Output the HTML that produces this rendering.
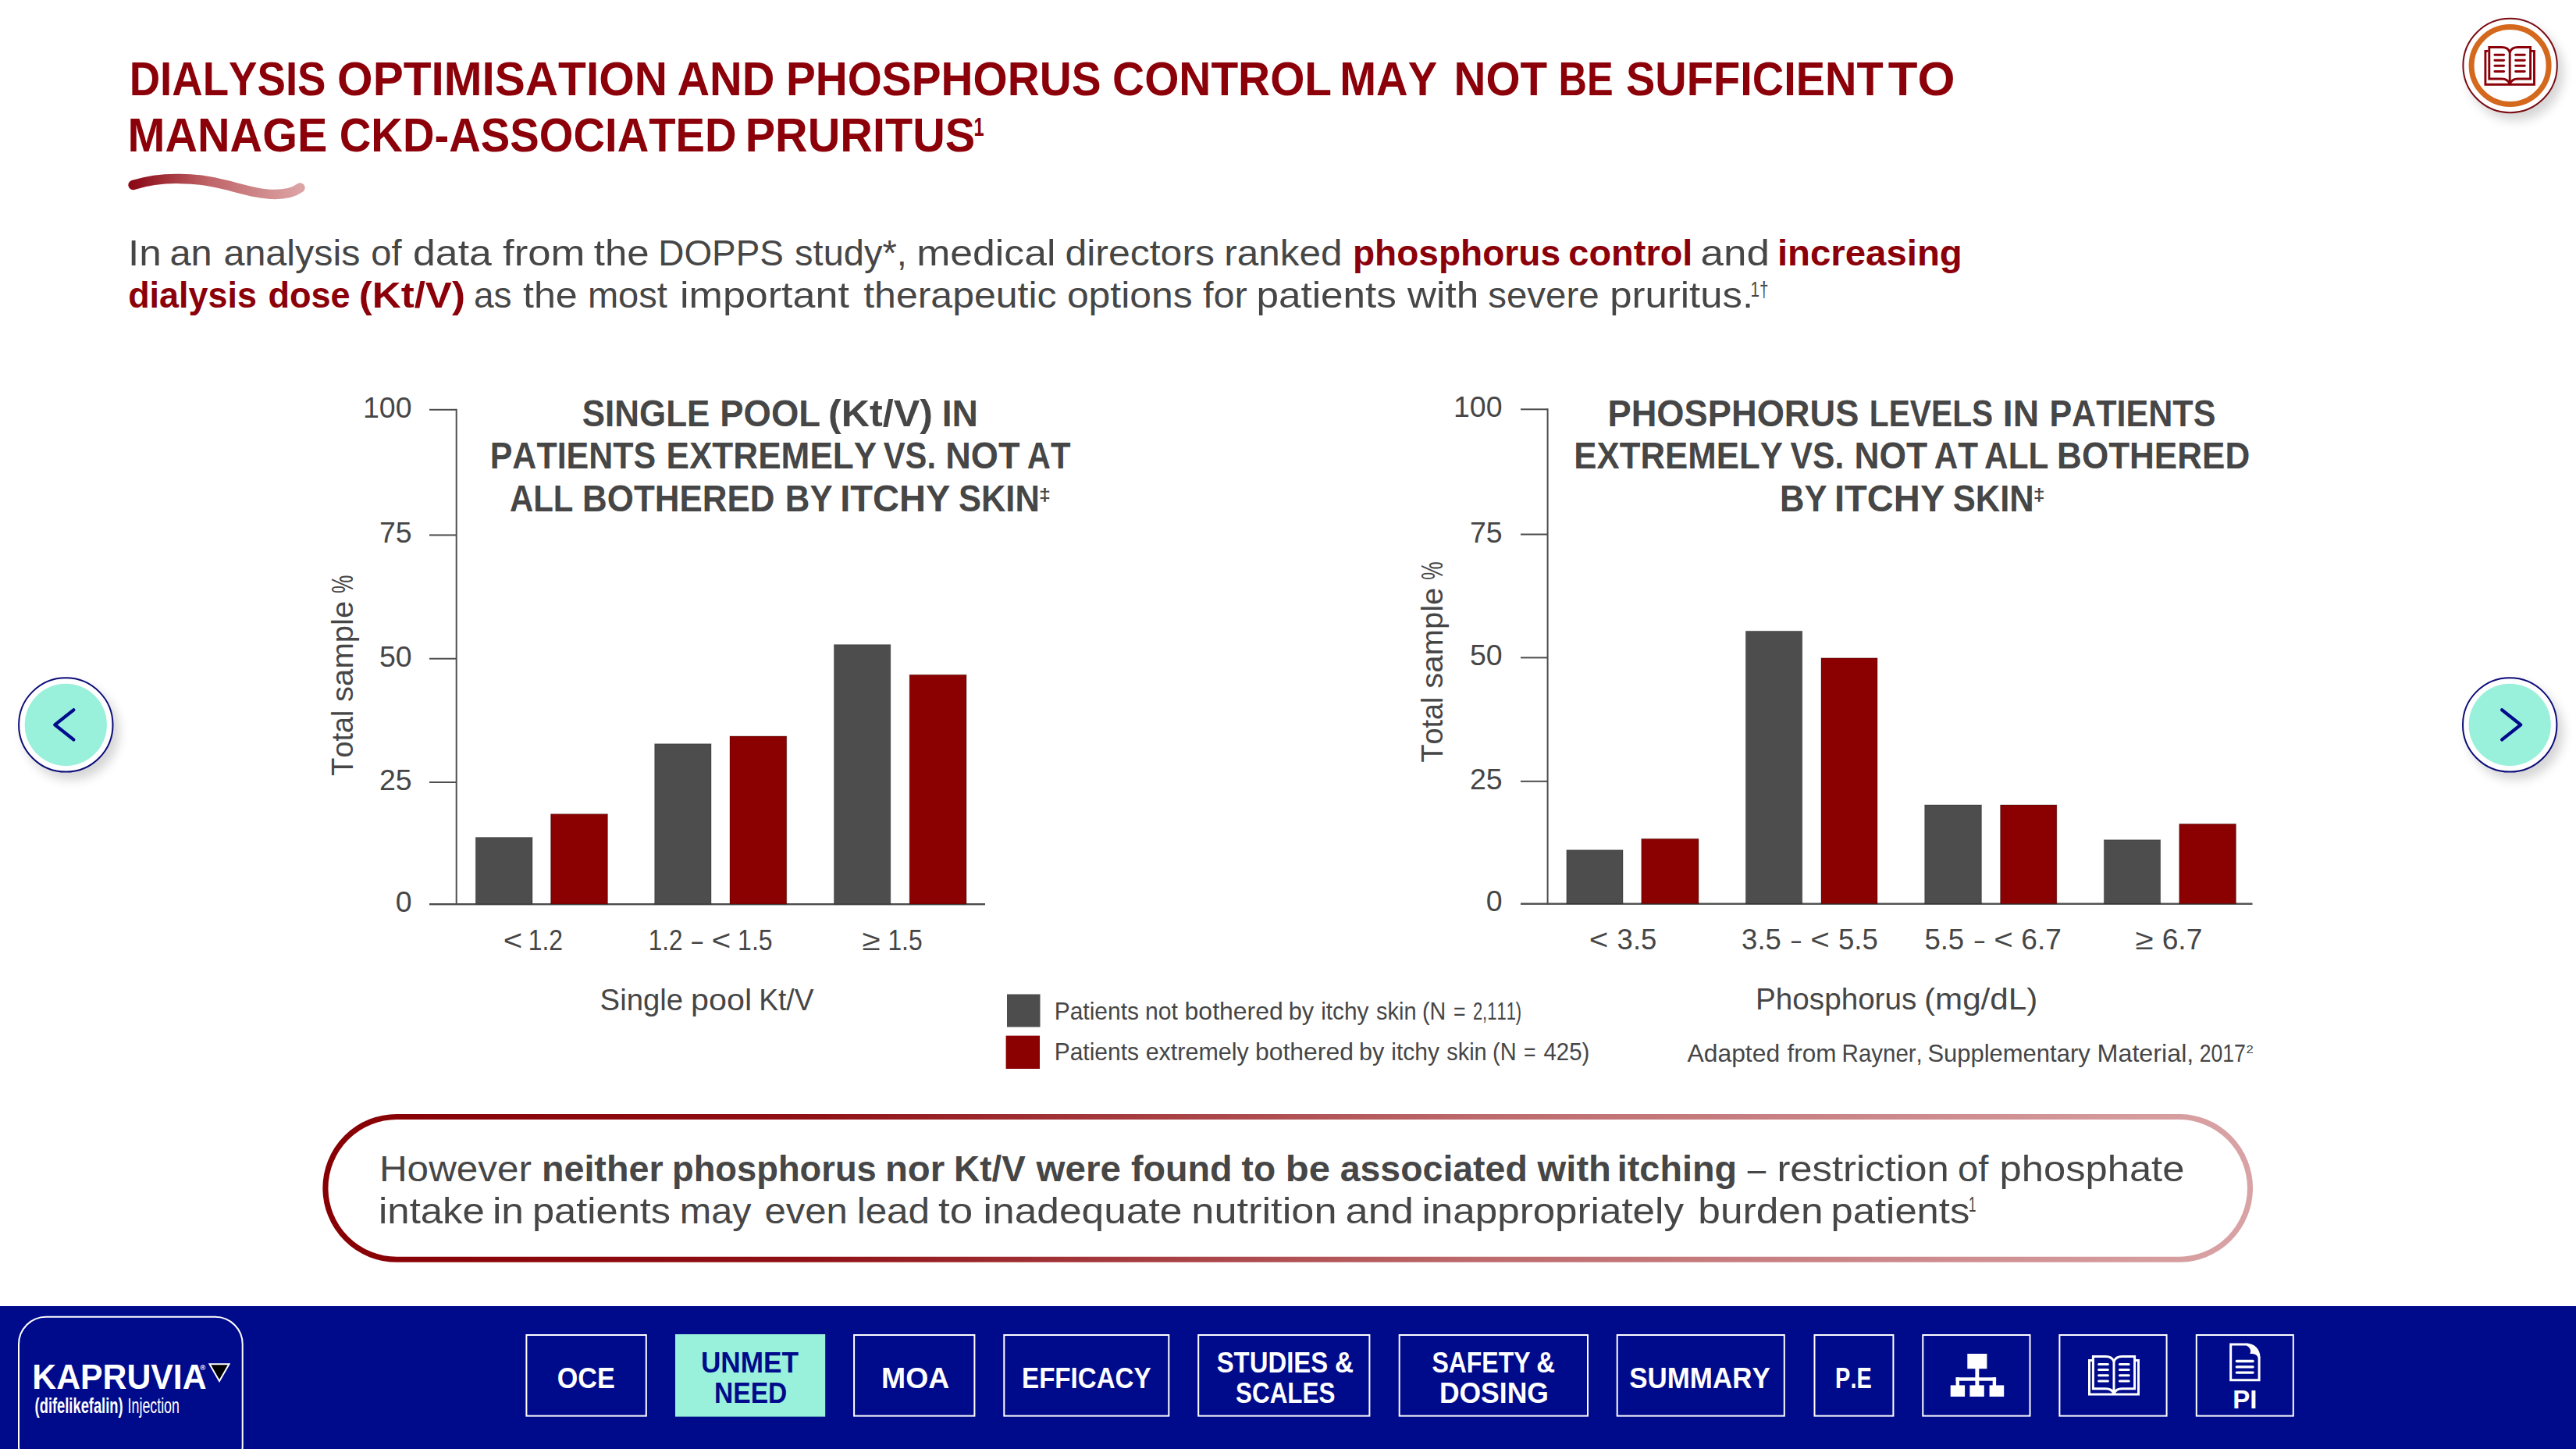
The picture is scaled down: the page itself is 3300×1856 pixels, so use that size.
<!DOCTYPE html>
<html lang="en"><head><meta charset="utf-8"><title>Dialysis optimisation and phosphorus control</title>
<style>
html,body{margin:0;padding:0;background:#fff}
body{width:3300px;height:1856px;overflow:hidden}
svg{display:block}
text{font-family:"Liberation Sans",sans-serif;white-space:pre;font-kerning:none}
</style></head><body>
<svg width="3300" height="1856" viewBox="0 0 3300 1856">
<defs>
<linearGradient id="gsw" x1="0" y1="0" x2="1" y2="0"><stop offset="0" stop-color="#8c0a16"/><stop offset="0.45" stop-color="#bf6468"/><stop offset="1" stop-color="#dca3a4"/></linearGradient>
<linearGradient id="gbox" x1="0" y1="0" x2="1" y2="0"><stop offset="0" stop-color="#870004"/><stop offset="0.25" stop-color="#8f1015"/><stop offset="0.6" stop-color="#bd6a6c"/><stop offset="1" stop-color="#d9a3a5"/></linearGradient>
<filter id="sh" x="-30%" y="-30%" width="170%" height="170%"><feGaussianBlur in="SourceAlpha" stdDeviation="7"/><feOffset dx="7" dy="9"/><feComponentTransfer><feFuncA type="linear" slope="0.17"/></feComponentTransfer><feMerge><feMergeNode/><feMergeNode in="SourceGraphic"/></feMerge></filter>
</defs>
<text x="165.7" y="121.9" font-size="61" fill="#8b0009" font-weight="bold" textLength="251.8" lengthAdjust="spacingAndGlyphs">DIALYSIS</text>
<text x="432.1" y="121.9" font-size="61" fill="#8b0009" font-weight="bold" textLength="422.9" lengthAdjust="spacingAndGlyphs">OPTIMISATION</text>
<text x="867.4" y="121.9" font-size="61" fill="#8b0009" font-weight="bold" textLength="125.1" lengthAdjust="spacingAndGlyphs">AND</text>
<text x="1006.9" y="121.9" font-size="61" fill="#8b0009" font-weight="bold" textLength="403.6" lengthAdjust="spacingAndGlyphs">PHOSPHORUS</text>
<text x="1425.1" y="121.9" font-size="61" fill="#8b0009" font-weight="bold" textLength="281.0" lengthAdjust="spacingAndGlyphs">CONTROL</text>
<text x="1716.2" y="121.9" font-size="61" fill="#8b0009" font-weight="bold" textLength="125.0" lengthAdjust="spacingAndGlyphs">MAY</text>
<text x="1862.5" y="121.9" font-size="61" fill="#8b0009" font-weight="bold" textLength="119.6" lengthAdjust="spacingAndGlyphs">NOT</text>
<text x="1996.4" y="121.9" font-size="61" fill="#8b0009" font-weight="bold" textLength="70.2" lengthAdjust="spacingAndGlyphs">BE</text>
<text x="2083.0" y="121.9" font-size="61" fill="#8b0009" font-weight="bold" textLength="329.7" lengthAdjust="spacingAndGlyphs">SUFFICIENT</text>
<text x="2418.8" y="121.9" font-size="61" fill="#8b0009" font-weight="bold" textLength="85.8" lengthAdjust="spacingAndGlyphs">TO</text>
<text x="163.5" y="193.7" font-size="61" fill="#8b0009" font-weight="bold" textLength="255.8" lengthAdjust="spacingAndGlyphs">MANAGE</text>
<text x="434.8" y="193.7" font-size="61" fill="#8b0009" font-weight="bold" textLength="508.8" lengthAdjust="spacingAndGlyphs">CKD-ASSOCIATED</text>
<text x="954.7" y="193.7" font-size="61" fill="#8b0009" font-weight="bold" textLength="294.5" lengthAdjust="spacingAndGlyphs">PRURITUS</text>
<text x="1247.5" y="173.8" font-size="34" fill="#8b0009" font-weight="bold" textLength="13.1" lengthAdjust="spacingAndGlyphs">1</text>
<path d="M170.5 237 C 190 231, 212 228.5, 231 229 C 256 229.5, 270 232, 290 237 C 312 242.5, 332 249, 352 249 C 366 249, 377 246, 384.5 240.5" fill="none" stroke="url(#gsw)" stroke-width="12.3" stroke-linecap="round"/>
<text x="164.0" y="340.3" font-size="46" fill="#464646" textLength="42.8" lengthAdjust="spacingAndGlyphs">In</text>
<text x="217.4" y="340.3" font-size="46" fill="#464646" textLength="54.2" lengthAdjust="spacingAndGlyphs">an</text>
<text x="286.5" y="340.3" font-size="46" fill="#464646" textLength="175.0" lengthAdjust="spacingAndGlyphs">analysis</text>
<text x="475.2" y="340.3" font-size="46" fill="#464646" textLength="39.3" lengthAdjust="spacingAndGlyphs">of</text>
<text x="529.1" y="340.3" font-size="46" fill="#464646" textLength="100.7" lengthAdjust="spacingAndGlyphs">data</text>
<text x="644.1" y="340.3" font-size="46" fill="#464646" textLength="105.4" lengthAdjust="spacingAndGlyphs">from</text>
<text x="760.8" y="340.3" font-size="46" fill="#464646" textLength="70.8" lengthAdjust="spacingAndGlyphs">the</text>
<text x="843.3" y="340.3" font-size="46" fill="#464646" textLength="160.5" lengthAdjust="spacingAndGlyphs">DOPPS</text>
<text x="1018.1" y="340.3" font-size="46" fill="#464646" textLength="143.7" lengthAdjust="spacingAndGlyphs">study*,</text>
<text x="1174.2" y="340.3" font-size="46" fill="#464646" textLength="178.2" lengthAdjust="spacingAndGlyphs">medical</text>
<text x="1364.5" y="340.3" font-size="46" fill="#464646" textLength="191.5" lengthAdjust="spacingAndGlyphs">directors</text>
<text x="1568.3" y="340.3" font-size="46" fill="#464646" textLength="151.1" lengthAdjust="spacingAndGlyphs">ranked</text>
<text x="1733.0" y="340.3" font-size="46" fill="#8b0009" font-weight="bold" textLength="266.0" lengthAdjust="spacingAndGlyphs">phosphorus</text>
<text x="2009.3" y="340.3" font-size="46" fill="#8b0009" font-weight="bold" textLength="159.1" lengthAdjust="spacingAndGlyphs">control</text>
<text x="2178.4" y="340.3" font-size="46" fill="#464646" textLength="88.5" lengthAdjust="spacingAndGlyphs">and</text>
<text x="2276.9" y="340.3" font-size="46" fill="#8b0009" font-weight="bold" textLength="236.9" lengthAdjust="spacingAndGlyphs">increasing</text>
<text x="164.2" y="394.2" font-size="46" fill="#8b0009" font-weight="bold" textLength="164.7" lengthAdjust="spacingAndGlyphs">dialysis</text>
<text x="343.4" y="394.2" font-size="46" fill="#8b0009" font-weight="bold" textLength="105.3" lengthAdjust="spacingAndGlyphs">dose</text>
<text x="459.7" y="394.2" font-size="46" fill="#8b0009" font-weight="bold" textLength="136.3" lengthAdjust="spacingAndGlyphs">(Kt/V)</text>
<text x="607.0" y="394.2" font-size="46" fill="#464646" textLength="48.6" lengthAdjust="spacingAndGlyphs">as</text>
<text x="670.0" y="394.2" font-size="46" fill="#464646" textLength="69.8" lengthAdjust="spacingAndGlyphs">the</text>
<text x="752.9" y="394.2" font-size="46" fill="#464646" textLength="101.9" lengthAdjust="spacingAndGlyphs">most</text>
<text x="871.0" y="394.2" font-size="46" fill="#464646" textLength="216.9" lengthAdjust="spacingAndGlyphs">important</text>
<text x="1106.2" y="394.2" font-size="46" fill="#464646" textLength="247.4" lengthAdjust="spacingAndGlyphs">therapeutic</text>
<text x="1366.9" y="394.2" font-size="46" fill="#464646" textLength="160.8" lengthAdjust="spacingAndGlyphs">options</text>
<text x="1540.9" y="394.2" font-size="46" fill="#464646" textLength="56.9" lengthAdjust="spacingAndGlyphs">for</text>
<text x="1609.4" y="394.2" font-size="46" fill="#464646" textLength="179.5" lengthAdjust="spacingAndGlyphs">patients</text>
<text x="1803.1" y="394.2" font-size="46" fill="#464646" textLength="91.2" lengthAdjust="spacingAndGlyphs">with</text>
<text x="1906.3" y="394.2" font-size="46" fill="#464646" textLength="142.3" lengthAdjust="spacingAndGlyphs">severe</text>
<text x="2062.2" y="394.2" font-size="46" fill="#464646" textLength="183.9" lengthAdjust="spacingAndGlyphs">pruritus.</text>
<text x="2242.5" y="379.6" font-size="27.5" fill="#464646" textLength="23.1" lengthAdjust="spacingAndGlyphs">1†</text>
<rect x="583.7" y="523.8" width="2" height="635.2" fill="#4d4d4d" />
<rect x="550" y="1157" width="712" height="2.4" fill="#4d4d4d" />
<rect x="550" y="523.8" width="34.700000000000045" height="2" fill="#4d4d4d" />
<rect x="550" y="684.4" width="34.700000000000045" height="2" fill="#4d4d4d" />
<rect x="550" y="842.7" width="34.700000000000045" height="2" fill="#4d4d4d" />
<rect x="550" y="1001" width="34.700000000000045" height="2" fill="#4d4d4d" />
<rect x="609.4" y="1072.6" width="72.60000000000002" height="85.40000000000009" fill="#4d4d4d" stroke="#000" stroke-opacity=".3" stroke-width="1"/>
<rect x="705.6" y="1042.7" width="72.79999999999995" height="115.29999999999995" fill="#8b0000" stroke="#000" stroke-opacity=".3" stroke-width="1"/>
<rect x="838.7" y="952.8" width="72.29999999999995" height="205.20000000000005" fill="#4d4d4d" stroke="#000" stroke-opacity=".3" stroke-width="1"/>
<rect x="935" y="943" width="72.70000000000005" height="215" fill="#8b0000" stroke="#000" stroke-opacity=".3" stroke-width="1"/>
<rect x="1068.5" y="825.7" width="72.29999999999995" height="332.29999999999995" fill="#4d4d4d" stroke="#000" stroke-opacity=".3" stroke-width="1"/>
<rect x="1165.2" y="864.3" width="72.79999999999995" height="293.70000000000005" fill="#8b0000" stroke="#000" stroke-opacity=".3" stroke-width="1"/>
<rect x="1981.6" y="523.3" width="2" height="635.2" fill="#4d4d4d" />
<rect x="1948" y="1156.5" width="937.5" height="2.4" fill="#4d4d4d" />
<rect x="1948" y="523.3" width="34.59999999999991" height="2" fill="#4d4d4d" />
<rect x="1948" y="683.5" width="34.59999999999991" height="2" fill="#4d4d4d" />
<rect x="1948" y="841.4" width="34.59999999999991" height="2" fill="#4d4d4d" />
<rect x="1948" y="999.8" width="34.59999999999991" height="2" fill="#4d4d4d" />
<rect x="2006.9" y="1088.8" width="72.09999999999991" height="68.70000000000005" fill="#4d4d4d" stroke="#000" stroke-opacity=".3" stroke-width="1"/>
<rect x="2102.8" y="1074.4" width="73.19999999999982" height="83.09999999999991" fill="#8b0000" stroke="#000" stroke-opacity=".3" stroke-width="1"/>
<rect x="2236.5" y="808.4" width="72.19999999999982" height="349.1" fill="#4d4d4d" stroke="#000" stroke-opacity=".3" stroke-width="1"/>
<rect x="2333" y="842.9" width="72" height="314.6" fill="#8b0000" stroke="#000" stroke-opacity=".3" stroke-width="1"/>
<rect x="2465.7" y="1031" width="72.70000000000027" height="126.5" fill="#4d4d4d" stroke="#000" stroke-opacity=".3" stroke-width="1"/>
<rect x="2562.6" y="1031" width="72.20000000000027" height="126.5" fill="#8b0000" stroke="#000" stroke-opacity=".3" stroke-width="1"/>
<rect x="2695.4" y="1075.8" width="72.19999999999982" height="81.70000000000005" fill="#4d4d4d" stroke="#000" stroke-opacity=".3" stroke-width="1"/>
<rect x="2791.8" y="1055.3" width="72.59999999999991" height="102.20000000000005" fill="#8b0000" stroke="#000" stroke-opacity=".3" stroke-width="1"/>
<text x="527.6" y="534.8" font-size="37.5" fill="#464646" text-anchor="end">100</text>
<text x="527.6" y="695.4" font-size="37.5" fill="#464646" text-anchor="end">75</text>
<text x="527.6" y="853.5" font-size="37.5" fill="#464646" text-anchor="end">50</text>
<text x="527.6" y="1012" font-size="37.5" fill="#464646" text-anchor="end">25</text>
<text x="527.6" y="1167.6" font-size="37.5" fill="#464646" text-anchor="end">0</text>
<text x="1924.6" y="534.3" font-size="37.5" fill="#464646" text-anchor="end">100</text>
<text x="1924.6" y="694.5" font-size="37.5" fill="#464646" text-anchor="end">75</text>
<text x="1924.6" y="852.4" font-size="37.5" fill="#464646" text-anchor="end">50</text>
<text x="1924.6" y="1010.8" font-size="37.5" fill="#464646" text-anchor="end">25</text>
<text x="1924.6" y="1167" font-size="37.5" fill="#464646" text-anchor="end">0</text>
<text x="-0.8" y="0" font-size="38.5" fill="#464646" textLength="84.0" lengthAdjust="spacingAndGlyphs" transform="translate(451.9,992.9) rotate(-90)">Total</text>
<text x="94.0" y="0" font-size="38.5" fill="#464646" textLength="129.1" lengthAdjust="spacingAndGlyphs" transform="translate(451.9,992.9) rotate(-90)">sample</text>
<text x="232.9" y="0" font-size="38.5" fill="#464646" textLength="23.4" lengthAdjust="spacingAndGlyphs" transform="translate(451.9,992.9) rotate(-90)">%</text>
<text x="-0.8" y="0" font-size="38.5" fill="#464646" textLength="84.0" lengthAdjust="spacingAndGlyphs" transform="translate(1847.8,975.7) rotate(-90)">Total</text>
<text x="94.0" y="0" font-size="38.5" fill="#464646" textLength="129.1" lengthAdjust="spacingAndGlyphs" transform="translate(1847.8,975.7) rotate(-90)">sample</text>
<text x="232.9" y="0" font-size="38.5" fill="#464646" textLength="23.4" lengthAdjust="spacingAndGlyphs" transform="translate(1847.8,975.7) rotate(-90)">%</text>
<text x="745.7" y="545.8" font-size="47.5" fill="#464646" font-weight="bold" textLength="163.6" lengthAdjust="spacingAndGlyphs">SINGLE</text>
<text x="922.3" y="545.8" font-size="47.5" fill="#464646" font-weight="bold" textLength="128.7" lengthAdjust="spacingAndGlyphs">POOL</text>
<text x="1061.0" y="545.8" font-size="47.5" fill="#464646" font-weight="bold" textLength="134.0" lengthAdjust="spacingAndGlyphs">(Kt/V)</text>
<text x="1206.7" y="545.8" font-size="47.5" fill="#464646" font-weight="bold" textLength="46.2" lengthAdjust="spacingAndGlyphs">IN</text>
<text x="627.7" y="600.3" font-size="47.5" fill="#464646" font-weight="bold" textLength="212.5" lengthAdjust="spacingAndGlyphs">PATIENTS</text>
<text x="853.5" y="600.3" font-size="47.5" fill="#464646" font-weight="bold" textLength="269.7" lengthAdjust="spacingAndGlyphs">EXTREMELY</text>
<text x="1131.7" y="600.3" font-size="47.5" fill="#464646" font-weight="bold" textLength="67.4" lengthAdjust="spacingAndGlyphs">VS.</text>
<text x="1211.3" y="600.3" font-size="47.5" fill="#464646" font-weight="bold" textLength="95.2" lengthAdjust="spacingAndGlyphs">NOT</text>
<text x="1315.8" y="600.3" font-size="47.5" fill="#464646" font-weight="bold" textLength="55.7" lengthAdjust="spacingAndGlyphs">AT</text>
<text x="652.9" y="654.7" font-size="47.5" fill="#464646" font-weight="bold" textLength="81.6" lengthAdjust="spacingAndGlyphs">ALL</text>
<text x="746.1" y="654.7" font-size="47.5" fill="#464646" font-weight="bold" textLength="246.3" lengthAdjust="spacingAndGlyphs">BOTHERED</text>
<text x="1005.8" y="654.7" font-size="47.5" fill="#464646" font-weight="bold" textLength="60.8" lengthAdjust="spacingAndGlyphs">BY</text>
<text x="1076.2" y="654.7" font-size="47.5" fill="#464646" font-weight="bold" textLength="141.3" lengthAdjust="spacingAndGlyphs">ITCHY</text>
<text x="1227.9" y="654.7" font-size="47.5" fill="#464646" font-weight="bold" textLength="104.0" lengthAdjust="spacingAndGlyphs">SKIN</text>
<text x="1331.0" y="641" font-size="22.4" fill="#464646" font-weight="bold" textLength="14.9" lengthAdjust="spacingAndGlyphs">‡</text>
<text x="2059.5" y="545.8" font-size="47.5" fill="#464646" font-weight="bold" textLength="321.9" lengthAdjust="spacingAndGlyphs">PHOSPHORUS</text>
<text x="2394.8" y="545.8" font-size="47.5" fill="#464646" font-weight="bold" textLength="158.5" lengthAdjust="spacingAndGlyphs">LEVELS</text>
<text x="2565.8" y="545.8" font-size="47.5" fill="#464646" font-weight="bold" textLength="46.3" lengthAdjust="spacingAndGlyphs">IN</text>
<text x="2625.4" y="545.8" font-size="47.5" fill="#464646" font-weight="bold" textLength="213.0" lengthAdjust="spacingAndGlyphs">PATIENTS</text>
<text x="2016.3" y="600.3" font-size="47.5" fill="#464646" font-weight="bold" textLength="267.7" lengthAdjust="spacingAndGlyphs">EXTREMELY</text>
<text x="2293.6" y="600.3" font-size="47.5" fill="#464646" font-weight="bold" textLength="68.8" lengthAdjust="spacingAndGlyphs">VS.</text>
<text x="2375.5" y="600.3" font-size="47.5" fill="#464646" font-weight="bold" textLength="93.7" lengthAdjust="spacingAndGlyphs">NOT</text>
<text x="2477.7" y="600.3" font-size="47.5" fill="#464646" font-weight="bold" textLength="56.3" lengthAdjust="spacingAndGlyphs">AT</text>
<text x="2542.1" y="600.3" font-size="47.5" fill="#464646" font-weight="bold" textLength="82.2" lengthAdjust="spacingAndGlyphs">ALL</text>
<text x="2635.1" y="600.3" font-size="47.5" fill="#464646" font-weight="bold" textLength="247.1" lengthAdjust="spacingAndGlyphs">BOTHERED</text>
<text x="2280.1" y="654.7" font-size="47.5" fill="#464646" font-weight="bold" textLength="60.6" lengthAdjust="spacingAndGlyphs">BY</text>
<text x="2350.0" y="654.7" font-size="47.5" fill="#464646" font-weight="bold" textLength="141.3" lengthAdjust="spacingAndGlyphs">ITCHY</text>
<text x="2501.7" y="654.7" font-size="47.5" fill="#464646" font-weight="bold" textLength="104.1" lengthAdjust="spacingAndGlyphs">SKIN</text>
<text x="2604.8" y="641" font-size="22.4" fill="#464646" font-weight="bold" textLength="14.9" lengthAdjust="spacingAndGlyphs">‡</text>
<text x="644.7" y="1217.2" font-size="37" fill="#464646" textLength="24.5" lengthAdjust="spacingAndGlyphs">&lt;</text>
<text x="676.7" y="1217.2" font-size="37" fill="#464646" textLength="44.3" lengthAdjust="spacingAndGlyphs">1.2</text>
<text x="830.8" y="1217.2" font-size="37" fill="#464646" textLength="43.7" lengthAdjust="spacingAndGlyphs">1.2</text>
<text x="886.3" y="1217.2" font-size="37" fill="#464646" textLength="13.9" lengthAdjust="spacingAndGlyphs">–</text>
<text x="911.6" y="1217.2" font-size="37" fill="#464646" textLength="24.8" lengthAdjust="spacingAndGlyphs">&lt;</text>
<text x="945.1" y="1217.2" font-size="37" fill="#464646" textLength="44.5" lengthAdjust="spacingAndGlyphs">1.5</text>
<text x="1104.4" y="1217.2" font-size="37" fill="#464646" textLength="23.3" lengthAdjust="spacingAndGlyphs">≥</text>
<text x="1137.4" y="1217.2" font-size="37" fill="#464646" textLength="44.2" lengthAdjust="spacingAndGlyphs">1.5</text>
<text x="768.6" y="1293.7" font-size="38" fill="#464646" textLength="106.5" lengthAdjust="spacingAndGlyphs">Single</text>
<text x="885.1" y="1293.7" font-size="38" fill="#464646" textLength="78.0" lengthAdjust="spacingAndGlyphs">pool</text>
<text x="972.2" y="1293.7" font-size="38" fill="#464646" textLength="70.3" lengthAdjust="spacingAndGlyphs">Kt/V</text>
<text x="2035.7" y="1216.3" font-size="37" fill="#464646" textLength="24.6" lengthAdjust="spacingAndGlyphs">&lt;</text>
<text x="2071.6" y="1216.3" font-size="37" fill="#464646" textLength="50.7" lengthAdjust="spacingAndGlyphs">3.5</text>
<text x="2231.1" y="1216.3" font-size="37" fill="#464646" textLength="50.7" lengthAdjust="spacingAndGlyphs">3.5</text>
<text x="2295.0" y="1216.3" font-size="37" fill="#464646" textLength="12.0" lengthAdjust="spacingAndGlyphs">–</text>
<text x="2319.2" y="1216.3" font-size="37" fill="#464646" textLength="24.6" lengthAdjust="spacingAndGlyphs">&lt;</text>
<text x="2355.0" y="1216.3" font-size="37" fill="#464646" textLength="50.8" lengthAdjust="spacingAndGlyphs">5.5</text>
<text x="2465.4" y="1216.3" font-size="37" fill="#464646" textLength="50.8" lengthAdjust="spacingAndGlyphs">5.5</text>
<text x="2529.7" y="1216.3" font-size="37" fill="#464646" textLength="12.3" lengthAdjust="spacingAndGlyphs">–</text>
<text x="2554.3" y="1216.3" font-size="37" fill="#464646" textLength="24.6" lengthAdjust="spacingAndGlyphs">&lt;</text>
<text x="2589.3" y="1216.3" font-size="37" fill="#464646" textLength="51.5" lengthAdjust="spacingAndGlyphs">6.7</text>
<text x="2735.5" y="1216.3" font-size="37" fill="#464646" textLength="23.2" lengthAdjust="spacingAndGlyphs">≥</text>
<text x="2769.7" y="1216.3" font-size="37" fill="#464646" textLength="51.7" lengthAdjust="spacingAndGlyphs">6.7</text>
<text x="2249.1" y="1293.2" font-size="38" fill="#464646" textLength="206.2" lengthAdjust="spacingAndGlyphs">Phosphorus</text>
<text x="2465.0" y="1293.2" font-size="38" fill="#464646" textLength="145.2" lengthAdjust="spacingAndGlyphs">(mg/dL)</text>
<text x="2161.5" y="1360" font-size="30.5" fill="#464646" textLength="118.6" lengthAdjust="spacingAndGlyphs">Adapted</text>
<text x="2289.4" y="1360" font-size="30.5" fill="#464646" textLength="63.0" lengthAdjust="spacingAndGlyphs">from</text>
<text x="2359.6" y="1360" font-size="30.5" fill="#464646" textLength="103.2" lengthAdjust="spacingAndGlyphs">Rayner,</text>
<text x="2469.4" y="1360" font-size="30.5" fill="#464646" textLength="208.3" lengthAdjust="spacingAndGlyphs">Supplementary</text>
<text x="2686.6" y="1360" font-size="30.5" fill="#464646" textLength="123.7" lengthAdjust="spacingAndGlyphs">Material,</text>
<text x="2817.7" y="1360" font-size="30.5" fill="#464646" textLength="59.2" lengthAdjust="spacingAndGlyphs">2017</text>
<text x="2877.4" y="1349.3" font-size="15.5" fill="#464646" textLength="9.3" lengthAdjust="spacingAndGlyphs">2</text>
<rect x="1290" y="1273.5" width="42.5" height="42" fill="#4d4d4d" />
<rect x="1288.6" y="1326.6" width="43.4" height="42.4" fill="#8b0000" />
<text x="1350.7" y="1305.8" font-size="30.5" fill="#464646" textLength="108.3" lengthAdjust="spacingAndGlyphs">Patients</text>
<text x="1467.0" y="1305.8" font-size="30.5" fill="#464646" textLength="41.9" lengthAdjust="spacingAndGlyphs">not</text>
<text x="1517.6" y="1305.8" font-size="30.5" fill="#464646" textLength="126.2" lengthAdjust="spacingAndGlyphs">bothered</text>
<text x="1650.8" y="1305.8" font-size="30.5" fill="#464646" textLength="32.4" lengthAdjust="spacingAndGlyphs">by</text>
<text x="1692.2" y="1305.8" font-size="30.5" fill="#464646" textLength="61.3" lengthAdjust="spacingAndGlyphs">itchy</text>
<text x="1763.1" y="1305.8" font-size="30.5" fill="#464646" textLength="51.5" lengthAdjust="spacingAndGlyphs">skin</text>
<text x="1821.9" y="1305.8" font-size="30.5" fill="#464646" textLength="30.3" lengthAdjust="spacingAndGlyphs">(N</text>
<text x="1861.9" y="1305.8" font-size="30.5" fill="#464646" textLength="15.5" lengthAdjust="spacingAndGlyphs">=</text>
<text x="1886.9" y="1305.8" font-size="30.5" fill="#464646" textLength="62.3" lengthAdjust="spacingAndGlyphs">2,111)</text>
<text x="1350.7" y="1358.4" font-size="30.5" fill="#464646" textLength="108.3" lengthAdjust="spacingAndGlyphs">Patients</text>
<text x="1467.7" y="1358.4" font-size="30.5" fill="#464646" textLength="132.0" lengthAdjust="spacingAndGlyphs">extremely</text>
<text x="1608.0" y="1358.4" font-size="30.5" fill="#464646" textLength="125.9" lengthAdjust="spacingAndGlyphs">bothered</text>
<text x="1741.0" y="1358.4" font-size="30.5" fill="#464646" textLength="32.3" lengthAdjust="spacingAndGlyphs">by</text>
<text x="1782.3" y="1358.4" font-size="30.5" fill="#464646" textLength="61.7" lengthAdjust="spacingAndGlyphs">itchy</text>
<text x="1853.3" y="1358.4" font-size="30.5" fill="#464646" textLength="51.4" lengthAdjust="spacingAndGlyphs">skin</text>
<text x="1912.1" y="1358.4" font-size="30.5" fill="#464646" textLength="30.6" lengthAdjust="spacingAndGlyphs">(N</text>
<text x="1952.0" y="1358.4" font-size="30.5" fill="#464646" textLength="15.5" lengthAdjust="spacingAndGlyphs">=</text>
<text x="1977.4" y="1358.4" font-size="30.5" fill="#464646" textLength="59.0" lengthAdjust="spacingAndGlyphs">425)</text>
<rect x="416.9" y="1430.5" width="2465.6" height="182.8" rx="91.4" ry="91.4" fill="#fff" stroke="url(#gbox)" stroke-width="7.1"/>
<text x="485.9" y="1512.5" font-size="46" fill="#464646" textLength="195.2" lengthAdjust="spacingAndGlyphs">However</text>
<text x="693.9" y="1512.5" font-size="46" fill="#464646" font-weight="bold" textLength="155.7" lengthAdjust="spacingAndGlyphs">neither</text>
<text x="861.0" y="1512.5" font-size="46" fill="#464646" font-weight="bold" textLength="261.8" lengthAdjust="spacingAndGlyphs">phosphorus</text>
<text x="1133.9" y="1512.5" font-size="46" fill="#464646" font-weight="bold" textLength="76.3" lengthAdjust="spacingAndGlyphs">nor</text>
<text x="1222.1" y="1512.5" font-size="46" fill="#464646" font-weight="bold" textLength="91.6" lengthAdjust="spacingAndGlyphs">Kt/V</text>
<text x="1327.6" y="1512.5" font-size="46" fill="#464646" font-weight="bold" textLength="108.3" lengthAdjust="spacingAndGlyphs">were</text>
<text x="1448.9" y="1512.5" font-size="46" fill="#464646" font-weight="bold" textLength="129.7" lengthAdjust="spacingAndGlyphs">found</text>
<text x="1590.6" y="1512.5" font-size="46" fill="#464646" font-weight="bold" textLength="43.5" lengthAdjust="spacingAndGlyphs">to</text>
<text x="1646.8" y="1512.5" font-size="46" fill="#464646" font-weight="bold" textLength="57.3" lengthAdjust="spacingAndGlyphs">be</text>
<text x="1716.7" y="1512.5" font-size="46" fill="#464646" font-weight="bold" textLength="240.1" lengthAdjust="spacingAndGlyphs">associated</text>
<text x="1969.6" y="1512.5" font-size="46" fill="#464646" font-weight="bold" textLength="94.3" lengthAdjust="spacingAndGlyphs">with</text>
<text x="2071.8" y="1512.5" font-size="46" fill="#464646" font-weight="bold" textLength="153.3" lengthAdjust="spacingAndGlyphs">itching</text>
<text x="2238.7" y="1512.5" font-size="46" fill="#464646" textLength="23.4" lengthAdjust="spacingAndGlyphs">–</text>
<text x="2276.4" y="1512.5" font-size="46" fill="#464646" textLength="220.3" lengthAdjust="spacingAndGlyphs">restriction</text>
<text x="2508.1" y="1512.5" font-size="46" fill="#464646" textLength="39.3" lengthAdjust="spacingAndGlyphs">of</text>
<text x="2561.6" y="1512.5" font-size="46" fill="#464646" textLength="236.8" lengthAdjust="spacingAndGlyphs">phosphate</text>
<text x="485.0" y="1566.8" font-size="46" fill="#464646" textLength="135.9" lengthAdjust="spacingAndGlyphs">intake</text>
<text x="630.9" y="1566.8" font-size="46" fill="#464646" textLength="40.1" lengthAdjust="spacingAndGlyphs">in</text>
<text x="682.0" y="1566.8" font-size="46" fill="#464646" textLength="177.1" lengthAdjust="spacingAndGlyphs">patients</text>
<text x="870.8" y="1566.8" font-size="46" fill="#464646" textLength="91.7" lengthAdjust="spacingAndGlyphs">may</text>
<text x="979.4" y="1566.8" font-size="46" fill="#464646" textLength="106.4" lengthAdjust="spacingAndGlyphs">even</text>
<text x="1097.7" y="1566.8" font-size="46" fill="#464646" textLength="93.3" lengthAdjust="spacingAndGlyphs">lead</text>
<text x="1202.0" y="1566.8" font-size="46" fill="#464646" textLength="44.2" lengthAdjust="spacingAndGlyphs">to</text>
<text x="1259.6" y="1566.8" font-size="46" fill="#464646" textLength="254.8" lengthAdjust="spacingAndGlyphs">inadequate</text>
<text x="1526.3" y="1566.8" font-size="46" fill="#464646" textLength="186.2" lengthAdjust="spacingAndGlyphs">nutrition</text>
<text x="1723.6" y="1566.8" font-size="46" fill="#464646" textLength="87.4" lengthAdjust="spacingAndGlyphs">and</text>
<text x="1821.5" y="1566.8" font-size="46" fill="#464646" textLength="335.5" lengthAdjust="spacingAndGlyphs">inappropriately</text>
<text x="2175.3" y="1566.8" font-size="46" fill="#464646" textLength="160.3" lengthAdjust="spacingAndGlyphs">burden</text>
<text x="2345.6" y="1566.8" font-size="46" fill="#464646" textLength="177.7" lengthAdjust="spacingAndGlyphs">patients</text>
<text x="2522.1" y="1551.9" font-size="27" fill="#464646" textLength="9.5" lengthAdjust="spacingAndGlyphs">1</text>
<rect x="0" y="1673" width="3300" height="183" fill="#000b8c" />
<rect x="24" y="1686.7" width="286.7" height="200" rx="35" ry="35" fill="none" stroke="#fff" stroke-width="2"/>
<text x="41.3" y="1778.7" font-size="44" fill="#fff" font-weight="bold" textLength="223.3" lengthAdjust="spacingAndGlyphs">KAPRUVIA</text>
<text x="256.3" y="1754.6" font-size="9.5" fill="#fff" font-weight="bold">®</text>
<path d="M268.5 1747.2 L293.5 1747.2 L281 1769 Z" fill="#000" stroke="#fff" stroke-width="2" stroke-linejoin="miter"/>
<text x="44.6" y="1810" font-size="28" fill="#fff" font-weight="bold" textLength="113" lengthAdjust="spacingAndGlyphs">(difelikefalin)</text>
<text x="163.6" y="1810" font-size="28" fill="#fff" textLength="66.3" lengthAdjust="spacingAndGlyphs">Injection</text>
<rect x="674.4" y="1710" width="153.39999999999998" height="103.59999999999991" fill="none" stroke="#fff" stroke-width="2"/>
<text x="713.8" y="1777.9" font-size="37" fill="#fff" font-weight="bold" textLength="74.0" lengthAdjust="spacingAndGlyphs">OCE</text>
<rect x="865" y="1709" width="192.20000000000005" height="105.59999999999991" fill="#99f0db" />
<text x="897.9" y="1757.8" font-size="37" fill="#000b8c" font-weight="bold" textLength="125.1" lengthAdjust="spacingAndGlyphs">UNMET</text>
<text x="915.0" y="1796.9" font-size="37" fill="#000b8c" font-weight="bold" textLength="93.3" lengthAdjust="spacingAndGlyphs">NEED</text>
<rect x="1094.1" y="1710" width="154.30000000000018" height="103.59999999999991" fill="none" stroke="#fff" stroke-width="2"/>
<text x="1129.0" y="1777.9" font-size="37" fill="#fff" font-weight="bold" textLength="87.2" lengthAdjust="spacingAndGlyphs">MOA</text>
<rect x="1286.3" y="1710" width="211.0" height="103.59999999999991" fill="none" stroke="#fff" stroke-width="2"/>
<text x="1309.1" y="1777.9" font-size="37" fill="#fff" font-weight="bold" textLength="165.4" lengthAdjust="spacingAndGlyphs">EFFICACY</text>
<rect x="1535.2" y="1710" width="219.20000000000005" height="103.59999999999991" fill="none" stroke="#fff" stroke-width="2"/>
<text x="1558.7" y="1757.8" font-size="37" fill="#fff" font-weight="bold" textLength="142.4" lengthAdjust="spacingAndGlyphs">STUDIES</text>
<text x="1710.1" y="1757.8" font-size="37" fill="#fff" font-weight="bold" textLength="24.1" lengthAdjust="spacingAndGlyphs">&amp;</text>
<text x="1583.1" y="1796.9" font-size="37" fill="#fff" font-weight="bold" textLength="127.3" lengthAdjust="spacingAndGlyphs">SCALES</text>
<rect x="1792.7" y="1710" width="241.29999999999995" height="103.59999999999991" fill="none" stroke="#fff" stroke-width="2"/>
<text x="1834.4" y="1757.8" font-size="37" fill="#fff" font-weight="bold" textLength="126.1" lengthAdjust="spacingAndGlyphs">SAFETY</text>
<text x="1968.3" y="1757.8" font-size="37" fill="#fff" font-weight="bold" textLength="23.9" lengthAdjust="spacingAndGlyphs">&amp;</text>
<text x="1843.9" y="1796.9" font-size="37" fill="#fff" font-weight="bold" textLength="140.0" lengthAdjust="spacingAndGlyphs">DOSING</text>
<rect x="2071.7" y="1710" width="214.10000000000036" height="103.59999999999991" fill="none" stroke="#fff" stroke-width="2"/>
<text x="2087.2" y="1777.9" font-size="37" fill="#fff" font-weight="bold" textLength="180.6" lengthAdjust="spacingAndGlyphs">SUMMARY</text>
<rect x="2324.5" y="1710" width="100.90000000000009" height="103.59999999999991" fill="none" stroke="#fff" stroke-width="2"/>
<text x="2351.1" y="1777.9" font-size="37" fill="#fff" font-weight="bold" textLength="46.6" lengthAdjust="spacingAndGlyphs">P.E</text>
<rect x="2463.3" y="1710" width="137.19999999999982" height="103.59999999999991" fill="none" stroke="#fff" stroke-width="2"/>
<rect x="2638.4" y="1710" width="137.19999999999982" height="103.59999999999991" fill="none" stroke="#fff" stroke-width="2"/>
<rect x="2813.8" y="1710" width="124.0" height="103.59999999999991" fill="none" stroke="#fff" stroke-width="2"/>
<g fill="#fff"><rect x="2520.3" y="1734" width="25.1" height="19.2"/><rect x="2530.4" y="1753" width="4.9" height="22"/><rect x="2505.6" y="1764.3" width="51.5" height="4.4"/><rect x="2505.6" y="1764.3" width="4.4" height="11"/><rect x="2552.7" y="1764.3" width="4.4" height="11"/><rect x="2498.7" y="1774.4" width="18.4" height="14.5"/><rect x="2523.4" y="1774.4" width="18.4" height="14.5"/><rect x="2548.6" y="1774.4" width="18.6" height="14.5"/></g>
<g fill="none" stroke="#fff" stroke-width="3" stroke-linejoin="miter"><path d="M2680.0 1742.5 L2676.5 1742.5 L2676.5 1786.1 L2739.5 1786.1 L2739.5 1742.5 L2736.0 1742.5"/><path d="M2708.0 1744.0 C2706.5 1740.0 2703.0 1737.5 2697.5 1737.5 L2681.4 1737.5 L2681.4 1778.7 L2697.5 1778.7 C2703.0 1778.7 2706.5 1781.0 2708.0 1785.5"/><path d="M2708.0 1744.0 C2709.5 1740.0 2713.0 1737.5 2718.5 1737.5 L2734.6 1737.5 L2734.6 1778.7 L2718.5 1778.7 C2713.0 1778.7 2709.5 1781.0 2708.0 1785.5"/><path d="M2708.0 1744.0 L2708.0 1786.0"/><path d="M2688.6 1747.4 L2700.4 1747.4 M2715.4 1747.4 L2727.2 1747.4" stroke-linecap="round"/><path d="M2688.6 1754.5 L2700.4 1754.5 M2715.4 1754.5 L2727.2 1754.5" stroke-linecap="round"/><path d="M2688.6 1761.8 L2700.4 1761.8 M2715.4 1761.8 L2727.2 1761.8" stroke-linecap="round"/><path d="M2688.6 1769.1 L2700.4 1769.1 M2715.4 1769.1 L2727.2 1769.1" stroke-linecap="round"/></g>
<g fill="none" stroke="#fff" stroke-width="3"><path d="M2879 1722.1 L2857.7 1722.1 L2857.7 1767.8 L2894.1 1767.8 L2894.1 1738"/><path d="M2865.3 1743.5 L2886.1 1743.5 M2865.3 1750.9 L2886.1 1750.9 M2865.3 1758.1 L2886.1 1758.1" stroke-linecap="round" stroke-width="3.3"/></g>
<path d="M2878 1720.6 C2888 1720.8 2895.6 1728 2895.6 1739 L2892.6 1739 C2891.5 1735.3 2888.5 1733.8 2882.4 1734 C2884.2 1730.5 2883 1726.5 2878 1723.6 Z" fill="#fff"/>
<text x="2860.2" y="1804" font-size="33.5" fill="#fff" font-weight="bold" textLength="31.2" lengthAdjust="spacingAndGlyphs">PI</text>
<g filter="url(#sh)"><circle cx="84.3" cy="928.4" r="60.2" fill="#fff" stroke="#0b0a78" stroke-width="2"/></g><circle cx="84.3" cy="928.4" r="52.6" fill="#99f0db"/><path d="M94.3 909.4 L70.3 928.4 L94.3 947.4" fill="none" stroke="#000b8c" stroke-width="4.4" stroke-linecap="round" stroke-linejoin="round"/>
<g filter="url(#sh)"><circle cx="3215.2" cy="928.4" r="60.2" fill="#fff" stroke="#0b0a78" stroke-width="2"/></g><circle cx="3215.2" cy="928.4" r="52.6" fill="#99f0db"/><path d="M3205.2 909.4 L3229.2 928.4 L3205.2 947.4" fill="none" stroke="#000b8c" stroke-width="4.4" stroke-linecap="round" stroke-linejoin="round"/>
<g filter="url(#sh)"><circle cx="3215.6" cy="84" r="60.2" fill="#fff" stroke="#7a0a12" stroke-width="2"/></g>
<circle cx="3215.6" cy="84" r="49.5" fill="#fff" stroke="#d4691e" stroke-width="7"/>
<g fill="none" stroke="#8a0008" stroke-width="2.9" stroke-linejoin="miter"><path d="M3187.4 65.4 L3183.9 65.4 L3183.9 108.2 L3246.5 108.2 L3246.5 65.4 L3243.0 65.4"/><path d="M3215.2 66.9 C3213.7 62.9 3210.2 60.5 3204.8 60.5 L3188.8 60.5 L3188.8 101.0 L3204.8 101.0 C3210.2 101.0 3213.7 103.2 3215.2 107.6"/><path d="M3215.2 66.9 C3216.7 62.9 3220.2 60.5 3225.6 60.5 L3241.6 60.5 L3241.6 101.0 L3225.6 101.0 C3220.2 101.0 3216.7 103.2 3215.2 107.6"/><path d="M3215.2 66.9 L3215.2 108.1"/><path d="M3195.9 70.2 L3207.6 70.2 M3222.6 70.2 L3234.3 70.2" stroke-linecap="round"/><path d="M3195.9 77.2 L3207.6 77.2 M3222.6 77.2 L3234.3 77.2" stroke-linecap="round"/><path d="M3195.9 84.3 L3207.6 84.3 M3222.6 84.3 L3234.3 84.3" stroke-linecap="round"/><path d="M3195.9 91.5 L3207.6 91.5 M3222.6 91.5 L3234.3 91.5" stroke-linecap="round"/></g>
</svg>
</body></html>
